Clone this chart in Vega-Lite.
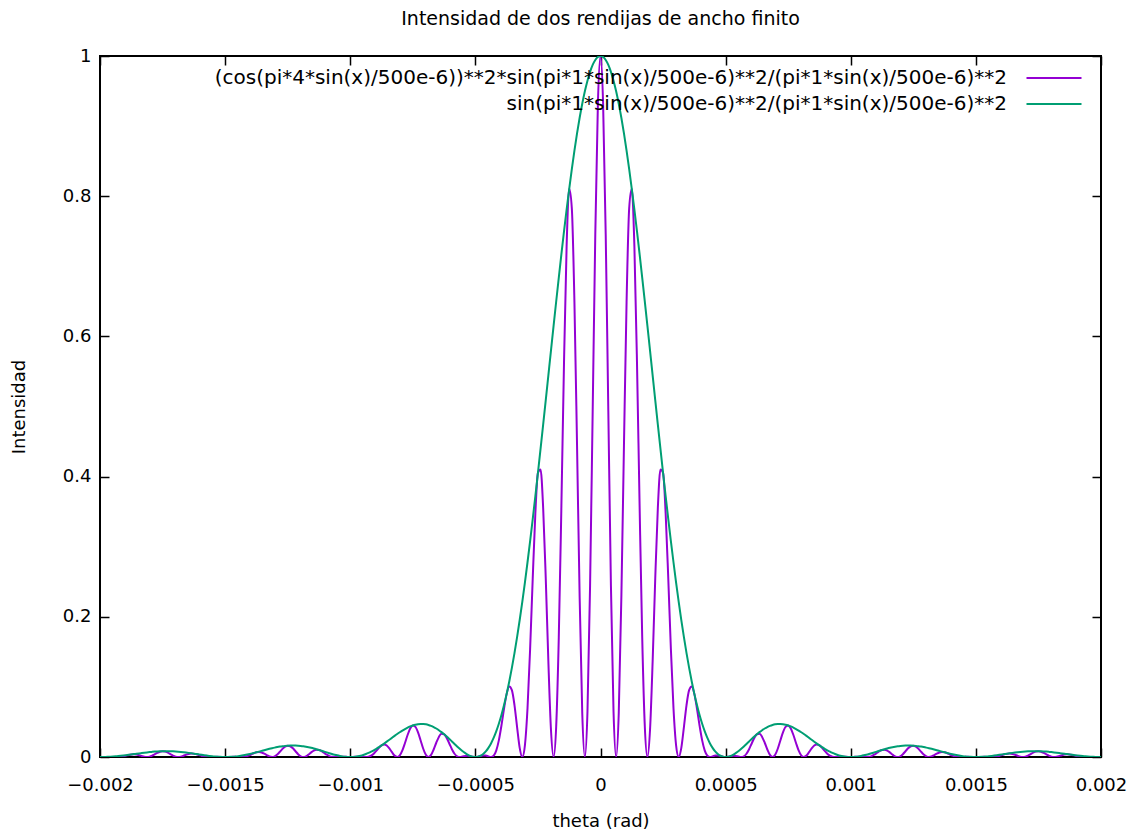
{
  "$schema": "https://vega.github.io/schema/vega-lite/v6.json",
  "width": 1001,
  "height": 701,
  "autosize": {"type": "none"},
  "padding": {"left": 100, "top": 56, "right": 39, "bottom": 78},
  "background": "white",
  "config": {
    "font": "DejaVu Sans",
    "view": {"stroke": "black", "strokeWidth": 2},
    "axis": {
      "domain": false,
      "grid": false,
      "ticks": true,
      "tickColor": "black",
      "tickWidth": 1.5,
      "tickSize": -9,
      "labelColor": "black",
      "labelFont": "DejaVu Sans",
      "labelFontSize": 18,
      "titleFont": "DejaVu Sans",
      "titleFontSize": 18,
      "titleFontWeight": "normal",
      "titleColor": "black",
      "labelFlush": false,
      "labelOverlap": false
    },
    "legend": {
      "labelFont": "DejaVu Sans",
      "labelFontSize": 20,
      "labelColor": "black",
      "labelLimit": 2000
    }
  },
  "title": {
    "text": "Intensidad de dos rendijas de ancho finito",
    "font": "DejaVu Sans",
    "fontSize": 19,
    "fontWeight": "normal",
    "color": "black",
    "baseline": "alphabetic",
    "offset": 3
  },
  "data": {
    "values": [
      {"x": -0.002, "i": 0, "e": 0},
      {"x": -0.001989583, "i": 0.000025539, "e": 0.000027373},
      {"x": -0.001979167, "i": 0.000082628, "e": 0.00011017},
      {"x": -0.00196875, "i": 0.00012437, "e": 0.00024873},
      {"x": -0.001958333, "i": 0.00011061, "e": 0.00044245},
      {"x": -0.001947917, "i": 0.000046206, "e": 0.00068977},
      {"x": -0.0019375, "i": 0, "e": 0.0009882},
      {"x": -0.001927083, "i": 0.000089381, "e": 0.0013343},
      {"x": -0.001916667, "i": 0.00043095, "e": 0.0017238},
      {"x": -0.00190625, "i": 0.0010758, "e": 0.0021516},
      {"x": -0.001895833, "i": 0.0019589, "e": 0.0026118},
      {"x": -0.001885417, "i": 0.0028904, "e": 0.0030979},
      {"x": -0.001875, "i": 0.0036026, "e": 0.0036026},
      {"x": -0.001864583, "i": 0.0038425, "e": 0.0041184},
      {"x": -0.001854167, "i": 0.0034781, "e": 0.0046375},
      {"x": -0.00184375, "i": 0.0025758, "e": 0.0051515},
      {"x": -0.001833333, "i": 0.0014131, "e": 0.0056523},
      {"x": -0.001822917, "i": 0.00041074, "e": 0.0061316},
      {"x": -0.0018125, "i": 0, "e": 0.0065815},
      {"x": -0.001802083, "i": 0.00046851, "e": 0.0069941},
      {"x": -0.001791667, "i": 0.0018406, "e": 0.0073625},
      {"x": -0.00178125, "i": 0.0038399, "e": 0.0076797},
      {"x": -0.001770833, "i": 0.0059551, "e": 0.0079401},
      {"x": -0.001760417, "i": 0.0075935, "e": 0.0081387},
      {"x": -0.00175, "i": 0.0082713, "e": 0.0082713},
      {"x": -0.001739583, "i": 0.0077765, "e": 0.0083348},
      {"x": -0.001729167, "i": 0.0062456, "e": 0.0083274},
      {"x": -0.00171875, "i": 0.0041242, "e": 0.0082484},
      {"x": -0.001708333, "i": 0.0020246, "e": 0.0080982},
      {"x": -0.001697917, "i": 0.00052776, "e": 0.0078786},
      {"x": -0.0016875, "i": 0, "e": 0.0075926},
      {"x": -0.001677083, "i": 0.00048527, "e": 0.0072443},
      {"x": -0.001666667, "i": 0.0017098, "e": 0.0068393},
      {"x": -0.00165625, "i": 0.003192, "e": 0.006384},
      {"x": -0.001645833, "i": 0.0044144, "e": 0.0058859},
      {"x": -0.001635417, "i": 0.0049949, "e": 0.0053535},
      {"x": -0.001625, "i": 0.0047964, "e": 0.0047964},
      {"x": -0.001614583, "i": 0.0039413, "e": 0.0042243},
      {"x": -0.001604167, "i": 0.0027359, "e": 0.0036479},
      {"x": -0.00159375, "i": 0.0015391, "e": 0.0030781},
      {"x": -0.001583333, "i": 0.0006315, "e": 0.002526},
      {"x": -0.001572917, "i": 0.00013416, "e": 0.0020028},
      {"x": -0.0015625, "i": 0, "e": 0.0015195},
      {"x": -0.001552083, "i": 0.000072781, "e": 0.0010865},
      {"x": -0.001541667, "i": 0.00017848, "e": 0.00071393},
      {"x": -0.00153125, "i": 0.00020559, "e": 0.00041117},
      {"x": -0.001520833, "i": 0.00013994, "e": 0.00018659},
      {"x": -0.001510417, "i": 0.000044314, "e": 0.000047496},
      {"x": -0.0015, "i": 0, "e": 0},
      {"x": -0.001489583, "i": 0.000045562, "e": 0.000048833},
      {"x": -0.001479167, "i": 0.00014794, "e": 0.00019725},
      {"x": -0.00146875, "i": 0.00022346, "e": 0.00044691},
      {"x": -0.001458333, "i": 0.00019947, "e": 0.00079786},
      {"x": -0.001447917, "i": 0.000083627, "e": 0.0012484},
      {"x": -0.0014375, "i": 0, "e": 0.0017952},
      {"x": -0.001427083, "i": 0.00016299, "e": 0.0024331},
      {"x": -0.001416667, "i": 0.00078885, "e": 0.0031554},
      {"x": -0.00140625, "i": 0.0019769, "e": 0.0039537},
      {"x": -0.001395833, "i": 0.0036136, "e": 0.0048181},
      {"x": -0.001385417, "i": 0.0053531, "e": 0.0057374},
      {"x": -0.001375, "i": 0.006699, "e": 0.006699},
      {"x": -0.001364583, "i": 0.0071744, "e": 0.0076895},
      {"x": -0.001354167, "i": 0.0065208, "e": 0.0086944},
      {"x": -0.00134375, "i": 0.0048493, "e": 0.0096985},
      {"x": -0.001333333, "i": 0.0026715, "e": 0.010686},
      {"x": -0.001322917, "i": 0.00077986, "e": 0.011642},
      {"x": -0.0013125, "i": 0, "e": 0.012551},
      {"x": -0.001302083, "i": 0.00089742, "e": 0.013397},
      {"x": -0.001291667, "i": 0.0035415, "e": 0.014166},
      {"x": -0.00128125, "i": 0.0074215, "e": 0.014843},
      {"x": -0.001270833, "i": 0.011563, "e": 0.015417},
      {"x": -0.001260417, "i": 0.014813, "e": 0.015876},
      {"x": -0.00125, "i": 0.016212, "e": 0.016212},
      {"x": -0.001239583, "i": 0.015315, "e": 0.016415},
      {"x": -0.001229167, "i": 0.01236, "e": 0.01648},
      {"x": -0.00121875, "i": 0.0082025, "e": 0.016405},
      {"x": -0.001208333, "i": 0.0040468, "e": 0.016187},
      {"x": -0.001197917, "i": 0.0010603, "e": 0.015828},
      {"x": -0.0011875, "i": 0, "e": 0.015332},
      {"x": -0.001177083, "i": 0.00098511, "e": 0.014706},
      {"x": -0.001166667, "i": 0.0034895, "e": 0.013958},
      {"x": -0.00115625, "i": 0.0065495, "e": 0.013099},
      {"x": -0.001145833, "i": 0.0091073, "e": 0.012143},
      {"x": -0.001135417, "i": 0.010363, "e": 0.011107},
      {"x": -0.001125, "i": 0.010007, "e": 0.010007},
      {"x": -0.001114583, "i": 0.0082706, "e": 0.0088644},
      {"x": -0.001104167, "i": 0.0057748, "e": 0.0076997},
      {"x": -0.00109375, "i": 0.0032678, "e": 0.0065356},
      {"x": -0.001083333, "i": 0.001349, "e": 0.0053959},
      {"x": -0.001072917, "i": 0.00028835, "e": 0.0043045},
      {"x": -0.0010625, "i": 0, "e": 0.003286},
      {"x": -0.001052083, "i": 0.00015839, "e": 0.0023645},
      {"x": -0.001041667, "i": 0.00039095, "e": 0.0015638},
      {"x": -0.00103125, "i": 0.00045327, "e": 0.00090654},
      {"x": -0.001020833, "i": 0.00031059, "e": 0.00041412},
      {"x": -0.001010417, "i": 0.000099021, "e": 0.00010613},
      {"x": -0.001, "i": 0, "e": 0},
      {"x": -0.000989583, "i": 0.00010324, "e": 0.00011065},
      {"x": -0.000979167, "i": 0.00033759, "e": 0.00045012},
      {"x": -0.00096875, "i": 0.00051365, "e": 0.0010273},
      {"x": -0.000958333, "i": 0.0004619, "e": 0.0018476},
      {"x": -0.000947917, "i": 0.00019512, "e": 0.0029128},
      {"x": -0.0009375, "i": 0, "e": 0.0042207},
      {"x": -0.000927083, "i": 0.0003862, "e": 0.0057653},
      {"x": -0.000916667, "i": 0.0018841, "e": 0.0075364},
      {"x": -0.00090625, "i": 0.0047599, "e": 0.0095198},
      {"x": -0.000895833, "i": 0.0087728, "e": 0.011697},
      {"x": -0.000885417, "i": 0.013106, "e": 0.014047},
      {"x": -0.000875, "i": 0.016543, "e": 0.016543},
      {"x": -0.000864583, "i": 0.017872, "e": 0.019155},
      {"x": -0.000854167, "i": 0.016389, "e": 0.021852},
      {"x": -0.00084375, "i": 0.0123, "e": 0.024599},
      {"x": -0.000833333, "i": 0.0068393, "e": 0.027357},
      {"x": -0.000822917, "i": 0.0020155, "e": 0.030088},
      {"x": -0.0008125, "i": 0, "e": 0.032752},
      {"x": -0.000802083, "i": 0.002365, "e": 0.035306},
      {"x": -0.000791667, "i": 0.0094275, "e": 0.03771},
      {"x": -0.00078125, "i": 0.019961, "e": 0.039922},
      {"x": -0.000770833, "i": 0.031429, "e": 0.041905},
      {"x": -0.000760417, "i": 0.040698, "e": 0.04362},
      {"x": -0.00075, "i": 0.045032, "e": 0.045032},
      {"x": -0.000739583, "i": 0.043022, "e": 0.046111},
      {"x": -0.000729167, "i": 0.035123, "e": 0.046831},
      {"x": -0.00071875, "i": 0.023584, "e": 0.047167},
      {"x": -0.000708333, "i": 0.011776, "e": 0.047104},
      {"x": -0.000697917, "i": 0.0031237, "e": 0.046631},
      {"x": -0.0006875, "i": 0, "e": 0.045744},
      {"x": -0.000677083, "i": 0.0029772, "e": 0.044445},
      {"x": -0.000666667, "i": 0.010687, "e": 0.042746},
      {"x": -0.00065625, "i": 0.020332, "e": 0.040663},
      {"x": -0.000645833, "i": 0.028668, "e": 0.038224},
      {"x": -0.000635417, "i": 0.033087, "e": 0.035463},
      {"x": -0.000625, "i": 0.032423, "e": 0.032423},
      {"x": -0.000614583, "i": 0.027202, "e": 0.029155},
      {"x": -0.000604167, "i": 0.019289, "e": 0.025718},
      {"x": -0.00059375, "i": 0.011089, "e": 0.022178},
      {"x": -0.000583333, "i": 0.0046525, "e": 0.01861},
      {"x": -0.000572917, "i": 0.0010113, "e": 0.015097},
      {"x": -0.0005625, "i": 0, "e": 0.011724},
      {"x": -0.000552083, "i": 0.00057521, "e": 0.0085869},
      {"x": -0.000541667, "i": 0.0014458, "e": 0.0057833},
      {"x": -0.00053125, "i": 0.001708, "e": 0.003416},
      {"x": -0.000520833, "i": 0.0011932, "e": 0.0015909},
      {"x": -0.000510417, "i": 0.00038805, "e": 0.00041591},
      {"x": -0.0005, "i": 0, "e": 0},
      {"x": -0.000489583, "i": 0.00042177, "e": 0.00045205},
      {"x": -0.000479167, "i": 0.0014097, "e": 0.0018796},
      {"x": -0.00046875, "i": 0.0021939, "e": 0.0043877},
      {"x": -0.000458333, "i": 0.0020194, "e": 0.0080775},
      {"x": -0.000447917, "i": 0.00087385, "e": 0.013045},
      {"x": -0.0004375, "i": 0, "e": 0.019381},
      {"x": -0.000427083, "i": 0.0018198, "e": 0.027166},
      {"x": -0.000416667, "i": 0.009119, "e": 0.036476},
      {"x": -0.00040625, "i": 0.023687, "e": 0.047374},
      {"x": -0.000395833, "i": 0.044934, "e": 0.059912},
      {"x": -0.000385417, "i": 0.069167, "e": 0.074133},
      {"x": -0.000375, "i": 0.090065, "e": 0.090065},
      {"x": -0.000364583, "i": 0.1005, "e": 0.10772},
      {"x": -0.000354167, "i": 0.095333, "e": 0.12711},
      {"x": -0.00034375, "i": 0.0741, "e": 0.1482},
      {"x": -0.000333333, "i": 0.042745, "e": 0.17098},
      {"x": -0.000322917, "i": 0.013089, "e": 0.1954},
      {"x": -0.0003125, "i": 0, "e": 0.2214},
      {"x": -0.000302083, "i": 0.016673, "e": 0.2489},
      {"x": -0.000291667, "i": 0.069455, "e": 0.27782},
      {"x": -0.00028125, "i": 0.15402, "e": 0.30804},
      {"x": -0.000270833, "i": 0.2546, "e": 0.33946},
      {"x": -0.000260417, "i": 0.34701, "e": 0.37192},
      {"x": -0.00025, "i": 0.40529, "e": 0.40529},
      {"x": -0.000239583, "i": 0.40998, "e": 0.43941},
      {"x": -0.000229167, "i": 0.35558, "e": 0.47411},
      {"x": -0.00021875, "i": 0.25461, "e": 0.50921},
      {"x": -0.000208333, "i": 0.13613, "e": 0.54453},
      {"x": -0.000197917, "i": 0.038842, "e": 0.57985},
      {"x": -0.0001875, "i": 0, "e": 0.615},
      {"x": -0.000177083, "i": 0.043526, "e": 0.64976},
      {"x": -0.000166667, "i": 0.17098, "e": 0.68393},
      {"x": -0.00015625, "i": 0.35865, "e": 0.7173},
      {"x": -0.000145833, "i": 0.56225, "e": 0.74966},
      {"x": -0.000135417, "i": 0.72852, "e": 0.78083},
      {"x": -0.000125, "i": 0.81058, "e": 0.81058},
      {"x": -0.000114583, "i": 0.78257, "e": 0.83875},
      {"x": -0.000104167, "i": 0.64886, "e": 0.86514},
      {"x": -0.00009375, "i": 0.44479, "e": 0.88958},
      {"x": -0.000083333, "i": 0.22798, "e": 0.91191},
      {"x": -0.000072917, "i": 0.062431, "e": 0.93198},
      {"x": -0.0000625, "i": 0, "e": 0.94966},
      {"x": -0.000052083, "i": 0.06463, "e": 0.96482},
      {"x": -0.000041667, "i": 0.24435, "e": 0.97738},
      {"x": -0.00003125, "i": 0.49362, "e": 0.98723},
      {"x": -0.000020833, "i": 0.74573, "e": 0.99431},
      {"x": -0.000010417, "i": 0.9317, "e": 0.99859},
      {"x": 0, "i": 1, "e": 1},
      {"x": 0.000010417, "i": 0.9317, "e": 0.99859},
      {"x": 0.000020833, "i": 0.74573, "e": 0.99431},
      {"x": 0.00003125, "i": 0.49362, "e": 0.98723},
      {"x": 0.000041667, "i": 0.24435, "e": 0.97738},
      {"x": 0.000052083, "i": 0.06463, "e": 0.96482},
      {"x": 0.0000625, "i": 0, "e": 0.94966},
      {"x": 0.000072917, "i": 0.062431, "e": 0.93198},
      {"x": 0.000083333, "i": 0.22798, "e": 0.91191},
      {"x": 0.00009375, "i": 0.44479, "e": 0.88958},
      {"x": 0.000104167, "i": 0.64886, "e": 0.86514},
      {"x": 0.000114583, "i": 0.78257, "e": 0.83875},
      {"x": 0.000125, "i": 0.81058, "e": 0.81058},
      {"x": 0.000135417, "i": 0.72852, "e": 0.78083},
      {"x": 0.000145833, "i": 0.56225, "e": 0.74966},
      {"x": 0.00015625, "i": 0.35865, "e": 0.7173},
      {"x": 0.000166667, "i": 0.17098, "e": 0.68393},
      {"x": 0.000177083, "i": 0.043526, "e": 0.64976},
      {"x": 0.0001875, "i": 0, "e": 0.615},
      {"x": 0.000197917, "i": 0.038842, "e": 0.57985},
      {"x": 0.000208333, "i": 0.13613, "e": 0.54453},
      {"x": 0.00021875, "i": 0.25461, "e": 0.50921},
      {"x": 0.000229167, "i": 0.35558, "e": 0.47411},
      {"x": 0.000239583, "i": 0.40998, "e": 0.43941},
      {"x": 0.00025, "i": 0.40529, "e": 0.40529},
      {"x": 0.000260417, "i": 0.34701, "e": 0.37192},
      {"x": 0.000270833, "i": 0.2546, "e": 0.33946},
      {"x": 0.00028125, "i": 0.15402, "e": 0.30804},
      {"x": 0.000291667, "i": 0.069455, "e": 0.27782},
      {"x": 0.000302083, "i": 0.016673, "e": 0.2489},
      {"x": 0.0003125, "i": 0, "e": 0.2214},
      {"x": 0.000322917, "i": 0.013089, "e": 0.1954},
      {"x": 0.000333333, "i": 0.042745, "e": 0.17098},
      {"x": 0.00034375, "i": 0.0741, "e": 0.1482},
      {"x": 0.000354167, "i": 0.095333, "e": 0.12711},
      {"x": 0.000364583, "i": 0.1005, "e": 0.10772},
      {"x": 0.000375, "i": 0.090065, "e": 0.090065},
      {"x": 0.000385417, "i": 0.069167, "e": 0.074133},
      {"x": 0.000395833, "i": 0.044934, "e": 0.059912},
      {"x": 0.00040625, "i": 0.023687, "e": 0.047374},
      {"x": 0.000416667, "i": 0.009119, "e": 0.036476},
      {"x": 0.000427083, "i": 0.0018198, "e": 0.027166},
      {"x": 0.0004375, "i": 0, "e": 0.019381},
      {"x": 0.000447917, "i": 0.00087385, "e": 0.013045},
      {"x": 0.000458333, "i": 0.0020194, "e": 0.0080775},
      {"x": 0.00046875, "i": 0.0021939, "e": 0.0043877},
      {"x": 0.000479167, "i": 0.0014097, "e": 0.0018796},
      {"x": 0.000489583, "i": 0.00042177, "e": 0.00045205},
      {"x": 0.0005, "i": 0, "e": 0},
      {"x": 0.000510417, "i": 0.00038805, "e": 0.00041591},
      {"x": 0.000520833, "i": 0.0011932, "e": 0.0015909},
      {"x": 0.00053125, "i": 0.001708, "e": 0.003416},
      {"x": 0.000541667, "i": 0.0014458, "e": 0.0057833},
      {"x": 0.000552083, "i": 0.00057521, "e": 0.0085869},
      {"x": 0.0005625, "i": 0, "e": 0.011724},
      {"x": 0.000572917, "i": 0.0010113, "e": 0.015097},
      {"x": 0.000583333, "i": 0.0046525, "e": 0.01861},
      {"x": 0.00059375, "i": 0.011089, "e": 0.022178},
      {"x": 0.000604167, "i": 0.019289, "e": 0.025718},
      {"x": 0.000614583, "i": 0.027202, "e": 0.029155},
      {"x": 0.000625, "i": 0.032423, "e": 0.032423},
      {"x": 0.000635417, "i": 0.033087, "e": 0.035463},
      {"x": 0.000645833, "i": 0.028668, "e": 0.038224},
      {"x": 0.00065625, "i": 0.020332, "e": 0.040663},
      {"x": 0.000666667, "i": 0.010687, "e": 0.042746},
      {"x": 0.000677083, "i": 0.0029772, "e": 0.044445},
      {"x": 0.0006875, "i": 0, "e": 0.045744},
      {"x": 0.000697917, "i": 0.0031237, "e": 0.046631},
      {"x": 0.000708333, "i": 0.011776, "e": 0.047104},
      {"x": 0.00071875, "i": 0.023584, "e": 0.047167},
      {"x": 0.000729167, "i": 0.035123, "e": 0.046831},
      {"x": 0.000739583, "i": 0.043022, "e": 0.046111},
      {"x": 0.00075, "i": 0.045032, "e": 0.045032},
      {"x": 0.000760417, "i": 0.040698, "e": 0.04362},
      {"x": 0.000770833, "i": 0.031429, "e": 0.041905},
      {"x": 0.00078125, "i": 0.019961, "e": 0.039922},
      {"x": 0.000791667, "i": 0.0094275, "e": 0.03771},
      {"x": 0.000802083, "i": 0.002365, "e": 0.035306},
      {"x": 0.0008125, "i": 0, "e": 0.032752},
      {"x": 0.000822917, "i": 0.0020155, "e": 0.030088},
      {"x": 0.000833333, "i": 0.0068393, "e": 0.027357},
      {"x": 0.00084375, "i": 0.0123, "e": 0.024599},
      {"x": 0.000854167, "i": 0.016389, "e": 0.021852},
      {"x": 0.000864583, "i": 0.017872, "e": 0.019155},
      {"x": 0.000875, "i": 0.016543, "e": 0.016543},
      {"x": 0.000885417, "i": 0.013106, "e": 0.014047},
      {"x": 0.000895833, "i": 0.0087728, "e": 0.011697},
      {"x": 0.00090625, "i": 0.0047599, "e": 0.0095198},
      {"x": 0.000916667, "i": 0.0018841, "e": 0.0075364},
      {"x": 0.000927083, "i": 0.0003862, "e": 0.0057653},
      {"x": 0.0009375, "i": 0, "e": 0.0042207},
      {"x": 0.000947917, "i": 0.00019512, "e": 0.0029128},
      {"x": 0.000958333, "i": 0.0004619, "e": 0.0018476},
      {"x": 0.00096875, "i": 0.00051365, "e": 0.0010273},
      {"x": 0.000979167, "i": 0.00033759, "e": 0.00045012},
      {"x": 0.000989583, "i": 0.00010324, "e": 0.00011065},
      {"x": 0.001, "i": 0, "e": 0},
      {"x": 0.001010417, "i": 0.000099021, "e": 0.00010613},
      {"x": 0.001020833, "i": 0.00031059, "e": 0.00041412},
      {"x": 0.00103125, "i": 0.00045327, "e": 0.00090654},
      {"x": 0.001041667, "i": 0.00039095, "e": 0.0015638},
      {"x": 0.001052083, "i": 0.00015839, "e": 0.0023645},
      {"x": 0.0010625, "i": 0, "e": 0.003286},
      {"x": 0.001072917, "i": 0.00028835, "e": 0.0043045},
      {"x": 0.001083333, "i": 0.001349, "e": 0.0053959},
      {"x": 0.00109375, "i": 0.0032678, "e": 0.0065356},
      {"x": 0.001104167, "i": 0.0057748, "e": 0.0076997},
      {"x": 0.001114583, "i": 0.0082706, "e": 0.0088644},
      {"x": 0.001125, "i": 0.010007, "e": 0.010007},
      {"x": 0.001135417, "i": 0.010363, "e": 0.011107},
      {"x": 0.001145833, "i": 0.0091073, "e": 0.012143},
      {"x": 0.00115625, "i": 0.0065495, "e": 0.013099},
      {"x": 0.001166667, "i": 0.0034895, "e": 0.013958},
      {"x": 0.001177083, "i": 0.00098511, "e": 0.014706},
      {"x": 0.0011875, "i": 0, "e": 0.015332},
      {"x": 0.001197917, "i": 0.0010603, "e": 0.015828},
      {"x": 0.001208333, "i": 0.0040468, "e": 0.016187},
      {"x": 0.00121875, "i": 0.0082025, "e": 0.016405},
      {"x": 0.001229167, "i": 0.01236, "e": 0.01648},
      {"x": 0.001239583, "i": 0.015315, "e": 0.016415},
      {"x": 0.00125, "i": 0.016212, "e": 0.016212},
      {"x": 0.001260417, "i": 0.014813, "e": 0.015876},
      {"x": 0.001270833, "i": 0.011563, "e": 0.015417},
      {"x": 0.00128125, "i": 0.0074215, "e": 0.014843},
      {"x": 0.001291667, "i": 0.0035415, "e": 0.014166},
      {"x": 0.001302083, "i": 0.00089742, "e": 0.013397},
      {"x": 0.0013125, "i": 0, "e": 0.012551},
      {"x": 0.001322917, "i": 0.00077986, "e": 0.011642},
      {"x": 0.001333333, "i": 0.0026715, "e": 0.010686},
      {"x": 0.00134375, "i": 0.0048493, "e": 0.0096985},
      {"x": 0.001354167, "i": 0.0065208, "e": 0.0086944},
      {"x": 0.001364583, "i": 0.0071744, "e": 0.0076895},
      {"x": 0.001375, "i": 0.006699, "e": 0.006699},
      {"x": 0.001385417, "i": 0.0053531, "e": 0.0057374},
      {"x": 0.001395833, "i": 0.0036136, "e": 0.0048181},
      {"x": 0.00140625, "i": 0.0019769, "e": 0.0039537},
      {"x": 0.001416667, "i": 0.00078885, "e": 0.0031554},
      {"x": 0.001427083, "i": 0.00016299, "e": 0.0024331},
      {"x": 0.0014375, "i": 0, "e": 0.0017952},
      {"x": 0.001447917, "i": 0.000083627, "e": 0.0012484},
      {"x": 0.001458333, "i": 0.00019947, "e": 0.00079786},
      {"x": 0.00146875, "i": 0.00022346, "e": 0.00044691},
      {"x": 0.001479167, "i": 0.00014794, "e": 0.00019725},
      {"x": 0.001489583, "i": 0.000045562, "e": 0.000048833},
      {"x": 0.0015, "i": 0, "e": 0},
      {"x": 0.001510417, "i": 0.000044314, "e": 0.000047496},
      {"x": 0.001520833, "i": 0.00013994, "e": 0.00018659},
      {"x": 0.00153125, "i": 0.00020559, "e": 0.00041117},
      {"x": 0.001541667, "i": 0.00017848, "e": 0.00071393},
      {"x": 0.001552083, "i": 0.000072781, "e": 0.0010865},
      {"x": 0.0015625, "i": 0, "e": 0.0015195},
      {"x": 0.001572917, "i": 0.00013416, "e": 0.0020028},
      {"x": 0.001583333, "i": 0.0006315, "e": 0.002526},
      {"x": 0.00159375, "i": 0.0015391, "e": 0.0030781},
      {"x": 0.001604167, "i": 0.0027359, "e": 0.0036479},
      {"x": 0.001614583, "i": 0.0039413, "e": 0.0042243},
      {"x": 0.001625, "i": 0.0047964, "e": 0.0047964},
      {"x": 0.001635417, "i": 0.0049949, "e": 0.0053535},
      {"x": 0.001645833, "i": 0.0044144, "e": 0.0058859},
      {"x": 0.00165625, "i": 0.003192, "e": 0.006384},
      {"x": 0.001666667, "i": 0.0017098, "e": 0.0068393},
      {"x": 0.001677083, "i": 0.00048527, "e": 0.0072443},
      {"x": 0.0016875, "i": 0, "e": 0.0075926},
      {"x": 0.001697917, "i": 0.00052776, "e": 0.0078786},
      {"x": 0.001708333, "i": 0.0020246, "e": 0.0080982},
      {"x": 0.00171875, "i": 0.0041242, "e": 0.0082484},
      {"x": 0.001729167, "i": 0.0062456, "e": 0.0083274},
      {"x": 0.001739583, "i": 0.0077765, "e": 0.0083348},
      {"x": 0.00175, "i": 0.0082713, "e": 0.0082713},
      {"x": 0.001760417, "i": 0.0075935, "e": 0.0081387},
      {"x": 0.001770833, "i": 0.0059551, "e": 0.0079401},
      {"x": 0.00178125, "i": 0.0038399, "e": 0.0076797},
      {"x": 0.001791667, "i": 0.0018406, "e": 0.0073625},
      {"x": 0.001802083, "i": 0.00046851, "e": 0.0069941},
      {"x": 0.0018125, "i": 0, "e": 0.0065815},
      {"x": 0.001822917, "i": 0.00041074, "e": 0.0061316},
      {"x": 0.001833333, "i": 0.0014131, "e": 0.0056523},
      {"x": 0.00184375, "i": 0.0025758, "e": 0.0051515},
      {"x": 0.001854167, "i": 0.0034781, "e": 0.0046375},
      {"x": 0.001864583, "i": 0.0038425, "e": 0.0041184},
      {"x": 0.001875, "i": 0.0036026, "e": 0.0036026},
      {"x": 0.001885417, "i": 0.0028904, "e": 0.0030979},
      {"x": 0.001895833, "i": 0.0019589, "e": 0.0026118},
      {"x": 0.00190625, "i": 0.0010758, "e": 0.0021516},
      {"x": 0.001916667, "i": 0.00043095, "e": 0.0017238},
      {"x": 0.001927083, "i": 0.000089381, "e": 0.0013343},
      {"x": 0.0019375, "i": 0, "e": 0.0009882},
      {"x": 0.001947917, "i": 0.000046206, "e": 0.00068977},
      {"x": 0.001958333, "i": 0.00011061, "e": 0.00044245},
      {"x": 0.00196875, "i": 0.00012437, "e": 0.00024873},
      {"x": 0.001979167, "i": 0.000082628, "e": 0.00011017},
      {"x": 0.001989583, "i": 0.000025539, "e": 0.000027373},
      {"x": 0.002, "i": 0, "e": 0}
    ]
  },
  "layer": [
    {
      "mark": {"type": "line", "strokeWidth": 2, "interpolate": "monotone", "clip": true},
      "encoding": {
        "x": {
          "field": "x",
          "type": "quantitative",
          "scale": {"domain": [-0.002, 0.002], "nice": false, "zero": false},
          "axis": {
            "orient": "bottom",
            "values": [-0.002, -0.0015, -0.001, -0.0005, 0, 0.0005, 0.001, 0.0015, 0.002],
            "format": "~g",
            "labelPadding": 28,
            "title": "theta (rad)",
            "titlePadding": 18
          }
        },
        "y": {
          "field": "i",
          "type": "quantitative",
          "scale": {"domain": [0, 1], "nice": false},
          "axis": {
            "orient": "left",
            "values": [0, 0.2, 0.4, 0.6, 0.8, 1],
            "format": "~g",
            "labelPadding": 18,
            "title": "Intensidad",
            "titlePadding": 34
          }
        },
        "color": {
          "datum": "(cos(pi*4*sin(x)/500e-6))**2*sin(pi*1*sin(x)/500e-6)**2/(pi*1*sin(x)/500e-6)**2",
          "type": "nominal",
          "scale": {
            "domain": [
              "(cos(pi*4*sin(x)/500e-6))**2*sin(pi*1*sin(x)/500e-6)**2/(pi*1*sin(x)/500e-6)**2",
              "sin(pi*1*sin(x)/500e-6)**2/(pi*1*sin(x)/500e-6)**2"
            ],
            "range": ["#9400D3", "#009E73"]
          },
          "legend": {
            "title": null,
            "orient": "none",
            "legendX": 944,
            "legendY": 12,
            "padding": 0,
            "symbolType": "M-5.5,0H5.5",
            "symbolSize": 100,
            "symbolStrokeWidth": 2,
            "labelAlign": "right",
            "labelOffset": -57,
            "rowPadding": 6
          }
        }
      }
    },
    {
      "mark": {"type": "line", "strokeWidth": 2, "interpolate": "monotone", "clip": true},
      "encoding": {
        "x": {
          "field": "x",
          "type": "quantitative",
          "axis": {
            "orient": "top",
            "values": [-0.002, -0.0015, -0.001, -0.0005, 0, 0.0005, 0.001, 0.0015, 0.002],
            "labels": false,
            "title": null
          }
        },
        "y": {
          "field": "e",
          "type": "quantitative",
          "axis": {
            "orient": "right",
            "values": [0, 0.2, 0.4, 0.6, 0.8, 1],
            "labels": false,
            "title": null
          }
        },
        "color": {
          "datum": "sin(pi*1*sin(x)/500e-6)**2/(pi*1*sin(x)/500e-6)**2",
          "type": "nominal"
        }
      }
    }
  ],
  "resolve": {"axis": {"x": "independent", "y": "independent"}}
}
